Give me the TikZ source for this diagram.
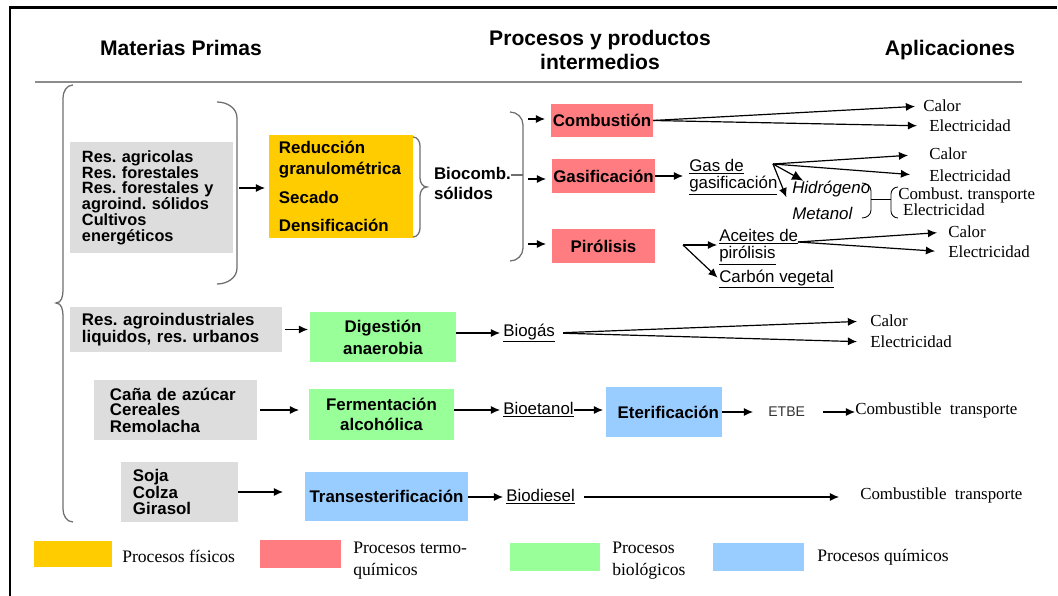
\documentclass[tikz,border=0pt]{standalone}
\usepackage{fontspec}
\setmainfont{Liberation Sans}
\newfontfamily\serifa{Liberation Serif}
\usepackage{tikz}
\usetikzlibrary{arrows.meta,%
                positioning,calc}
\definecolor{amarillo}{HTML}{FFCC00}
\definecolor{rojo}{HTML}{FF7C80}
\definecolor{verde}{HTML}{99FF99}
\definecolor{azul}{HTML}{99CCFF}
\definecolor{grisclaro}{HTML}{DDDDDD}
\definecolor{gristrazo}{HTML}{6E6E6E}
\definecolor{regla}{HTML}{8C8C8C}
\frenchspacing

\begin{document}
\begin{tikzpicture}[x=0.025cm,y=-0.025cm]
\tikzset{CajaStyle/.style = {shape        = rectangle,
                             inner sep    = 0pt,
                             outer sep    = 0pt,
                             align        = center,
                             font         = \fontsize{12}{13.5}\selectfont\bfseries},
         MateriaStyle/.style = {CajaStyle, fill=grisclaro, align=left},
         FisicoStyle/.style  = {CajaStyle, fill=amarillo},
         TermoStyle/.style   = {CajaStyle, fill=rojo},
         BioStyle/.style     = {CajaStyle, fill=verde},
         QuimStyle/.style    = {CajaStyle, fill=azul},
         CabStyle/.style     = {inner sep=0pt, align=center,
                                font=\fontsize{15}{17}\selectfont\bfseries},
         ProdStyle/.style    = {inner sep=0pt, anchor=west, align=left,
                                font=\fontsize{12}{12.1}\selectfont},
         AplicStyle/.style   = {inner sep=0pt, anchor=west, align=left,
                                font=\serifa\fontsize{12}{11.4}\selectfont},
         LeyendaStyle/.style = {inner sep=0pt, align=left,
                                font=\serifa\fontsize{12.5}{15.6}\selectfont},
         LlaveStyle/.style   = {draw=gristrazo, line width=0.9pt},
         FlechaStyle/.style  = {-{Latex[length=6.5pt,width=5.8pt]}, line width=0.85pt}}
\useasboundingbox (0,0) rectangle (1058,596);

% marco y cabecera
\draw[line width=1.6pt] (10,596) -- (10,7.5) -- (1057,7.5);
\node[CabStyle] (MP) at (181,48) {Materias Primas};
\node[CabStyle] (PP) at (600,50) {Procesos y productos\\intermedios};
\node[CabStyle] (AP) at (950,50) {Aplicaciones};
\draw[draw=regla, line width=1.2pt] (35,82) -- (1022,82);

% llave grande
\draw[LlaveStyle] (73,85) to[out=180,in=90] (63,98) -- (63,290) to[out=-90,in=0] (56,303)
      to[out=0,in=90] (63,316) -- (63,509) to[out=-90,in=180] (73,522);

% biocombustibles solidos
\node[MateriaStyle, font=\fontsize{11.6}{11.2}\selectfont\bfseries, text width=3.475cm, inner xsep=0.3cm,
      minimum height=2.775cm] (RA) at (151.5,197.5)
     {Res. agricolas\\Res. forestales\\Res. forestales y\\agroind. sólidos\\Cultivos\\energéticos};
\draw[LlaveStyle] (217,102) to[out=0,in=90] (237,118) -- (237,268) to[out=-90,in=0] (217,284);
\node[FisicoStyle, align=left, text width=3.1cm, inner xsep=0.25cm, minimum height=2.575cm] (RG) at (341,186.5)
     {Reducción\\[1.4pt]granulométrica\\[7.1pt]Secado\\[6.4pt]Densificación};
\draw[LlaveStyle] (413,137) to[out=0,in=90] (420,146) -- (420,178) to[out=-90,in=180] (427,187)
      to[out=180,in=90] (420,196) -- (420,228) to[out=-90,in=0] (413,237);
\node[CajaStyle, align=left, anchor=west] (BS) at (434,183) {Biocomb.\\[0.7pt]sólidos};
\draw[LlaveStyle] (510,112) to[out=0,in=90] (523,125) -- (523,248) to[out=-90,in=0] (510,261);

\node[TermoStyle, minimum width=2.55cm, minimum height=0.825cm] (CO) at (602,120.5) {Combustión};
\node[TermoStyle, minimum width=2.575cm, minimum height=0.85cm] (GA) at (603.5,176) {Gasificación};
\node[TermoStyle, minimum width=2.575cm, minimum height=0.85cm] (PI) at (603.5,246) {Pirólisis};

\node[AplicStyle] (C1) at (923,106) {Calor};
\node[AplicStyle] (E1) at (929,126) {Electricidad};
\node[ProdStyle] (GS) at (689,177) {\underline{Gas de}\\\underline{gasificación}};
\node[AplicStyle] (C2) at (929,154) {Calor};
\node[AplicStyle] (E2) at (929,176) {Electricidad};
\node[ProdStyle, font=\fontsize{12}{13}\selectfont\itshape] (HI) at (792,189) {Hidrógeno};
\node[ProdStyle, font=\fontsize{12}{13}\selectfont\itshape] (ME) at (792,213) {Metanol};
\node[AplicStyle] (CT0) at (898,202) {Combust. transporte\\\hspace{3.5pt}Electricidad};
\node[ProdStyle] (AC) at (719,247) {\underline{Aceites de}\\\underline{pirólisis}};
\node[ProdStyle] (CV) at (719,279) {\underline{Carbón vegetal}};
\node[AplicStyle] (C3) at (948,232) {Calor};
\node[AplicStyle] (E3) at (948,252) {Electricidad};

\coordinate (b1) at (239,188);
\coordinate (b3) at (523,175);
\coordinate (g0) at (773,164);
\coordinate (p0) at (683,245);
\coordinate (a0) at (798,242);
\draw[FlechaStyle, shorten >=0.1cm] (b1) -- (b1 -| RG.west);
\draw[LlaveStyle] (b3 -| BS.east) -- (b3);
\foreach \n/\yy in {CO/119,GA/179,PI/244}{
  \coordinate (c\n) at (528,\yy);
  \draw[FlechaStyle, shorten >=0.15cm] (c\n) -- (c\n -| \n.west);
}
\foreach \dest/\sh in {C1/0.2cm,E1/0.3cm}
  \draw[FlechaStyle, shorten >=\sh] (CO.east) -- (\dest.west);
\draw[FlechaStyle, shorten >=0.15cm] (GA.east) -- (GA.east -| GS.west);
\foreach \dest/\sh in {C2/0.525cm,E2/0.475cm}
  \draw[FlechaStyle, shorten >=\sh] (g0) -- (\dest.west);
\draw[-{Latex[length=8pt,width=7pt]}, line width=0.85pt] (g0) -- ([xshift=8pt]HI.north west);
\draw[FlechaStyle] (g0) -- ([xshift=-4pt]HI.south west);
\draw[line width=0.6pt] (862,183) to[out=0,in=90] (871,191) -- (871,210) to[out=-90,in=0] (862,218);
\draw[line width=0.6pt] (871,199) -- (891,199);
\draw[line width=0.6pt] (898,187) to[out=180,in=90] (891,194) -- (891,211) to[out=-90,in=180] (898,218);
\draw[FlechaStyle, shorten >=0.05cm] (p0) -- (p0 -| AC.west);
\draw[FlechaStyle, shorten >=0.05cm] (p0) -- (CV.west);
\foreach \dest/\sh in {C3/0.275cm,E3/0.325cm}
  \draw[FlechaStyle, shorten >=\sh] (a0) -- (\dest.west);

% biogas
\node[MateriaStyle, text width=4.7cm, inner xsep=0.3cm, minimum height=1.125cm] (RU) at (176,329.5)
     {Res. agroindustriales\\[-1.4pt]liquidos, res. urbanos};
\node[BioStyle, minimum width=3.65cm, minimum height=1.25cm] (DA) at (383,337) {Digestión\\[2.1pt]anaerobia};
\node[ProdStyle] (BG) at (503,333) {\underline{Biogás}};
\node[AplicStyle] (C4) at (870,321) {Calor};
\node[AplicStyle] (E4) at (870,342) {Electricidad};
\draw[FlechaStyle, shorten <=0.075cm, shorten >=0.05cm] (RU.east) -- (RU.east -| DA.west);
\draw[FlechaStyle, shorten >=0.075cm] (DA.east |- BG.west) -- (BG.west);
\foreach \dest in {C4,E4}
  \draw[FlechaStyle, shorten <=0.2cm, shorten >=0.325cm] (BG.east) -- (\dest.west);

% bioetanol
\node[MateriaStyle, text width=3.275cm, inner xsep=0.4cm, minimum height=1.5cm] (CA) at (175.5,410)
     {Caña de azúcar\\[-2.8pt]Cereales\\[-1.4pt]Remolacha};
\node[BioStyle, minimum width=3.625cm, minimum height=1.275cm] (FA) at (381.5,414.5) {Fermentación\\[0.7pt]alcohólica};
\node[ProdStyle] (BE) at (503,410) {\underline{Bioetanol}};
\node[QuimStyle, align=right, text width=2.75cm, inner xsep=0.075cm, minimum height=1.25cm] (ET) at (664,412) {Eterificación};
\node[ProdStyle, font=\fontsize{10}{12}\selectfont, text=black!80] (EB) at (768,412) {ETBE};
\node[AplicStyle] (CT1) at (855,410) {Combustible~~transporte};
\draw[FlechaStyle, shorten <=0.075cm, shorten >=0.25cm] (CA.east) -- (CA.east -| FA.west);
\draw[FlechaStyle, shorten >=0.075cm] (FA.east |- BE.west) -- (BE.west);
\draw[FlechaStyle, shorten >=0.075cm] (BE.east) -- (BE.east -| ET.west);
\draw[FlechaStyle, shorten >=0.375cm] (ET.east |- EB.west) -- (EB.west);
\draw[FlechaStyle, shorten <=0.45cm] (EB.east) -- (EB.east -| CT1.west);

% biodiesel
\node[MateriaStyle, text width=2.325cm, inner xsep=0.3cm, minimum height=1.5cm] (SO) at (179.5,492)
     {Soja\\[-1.4pt]Colza\\[-2.1pt]Girasol};
\node[QuimStyle, minimum width=4.075cm, minimum height=1.225cm] (TR) at (386.5,496.5) {Transesterificación};
\node[ProdStyle] (BD) at (506,497) {\underline{Biodiesel}};
\node[AplicStyle] (CT2) at (860,495) {Combustible~~transporte};
\draw[FlechaStyle, shorten >=0.55cm] (SO.east) -- (SO.east -| TR.west);
\draw[FlechaStyle, shorten >=0.075cm] (TR.east |- BD.west) -- (BD.west);
\draw[FlechaStyle, shorten <=0.225cm, shorten >=0.525cm] (BD.east) -- (BD.east -| CT2.west);

% leyenda
\node[FisicoStyle, minimum width=1.95cm, minimum height=0.65cm] (L1) at (73,554) {};
\node[LeyendaStyle, right=0.25cm of L1, yshift=-2pt] (T1) {Procesos físicos};
\node[TermoStyle, minimum width=2.025cm, minimum height=0.7cm] (L2) at (300.5,554) {};
\node[LeyendaStyle, right=0.3cm of L2, yshift=-5pt] (T2) {Procesos termo-\\químicos};
\node[BioStyle, minimum width=2.25cm, minimum height=0.7cm] (L3) at (555,557) {};
\node[LeyendaStyle, right=0.3cm of L3, yshift=-2.5pt] (T3) {Procesos\\biológicos};
\node[QuimStyle, minimum width=2.275cm, minimum height=0.7cm] (L4) at (758.5,557) {};
\node[LeyendaStyle, right=0.325cm of L4] (T4) {Procesos químicos};
\end{tikzpicture}
\end{document}
